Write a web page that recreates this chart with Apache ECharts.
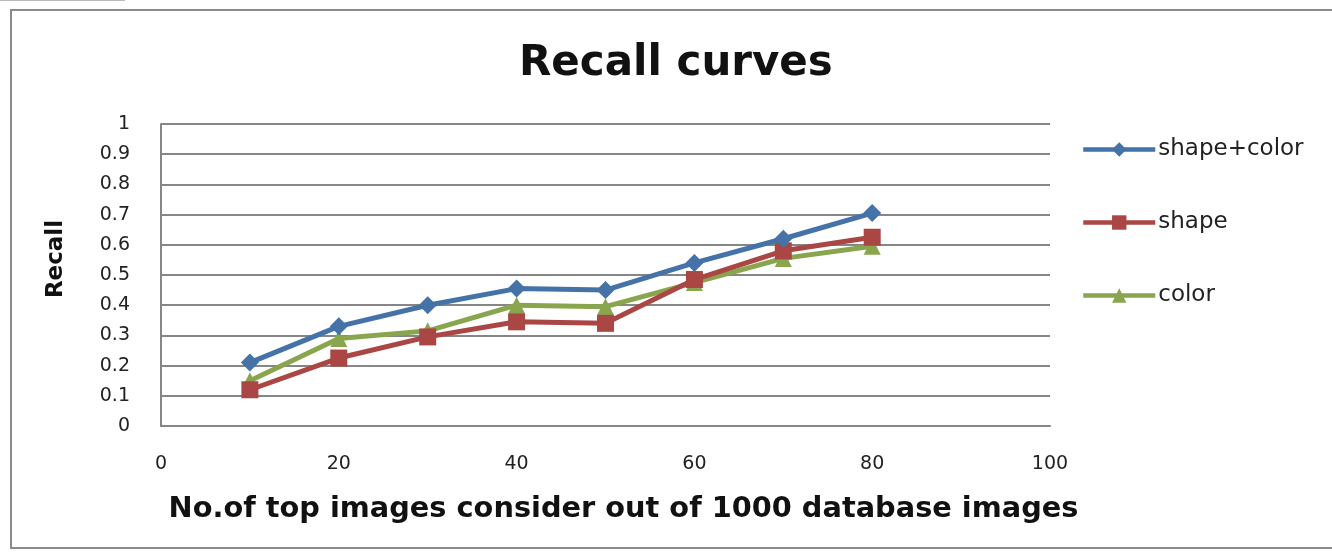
<!DOCTYPE html>
<html>
<head>
<meta charset="utf-8">
<script src="https://cdn.jsdelivr.net/npm/echarts@6/dist/echarts.min.js"></script>
<style>
  html, body { margin: 0; padding: 0; background: #fff; }
  #chart { width: 1332px; height: 552px; }
</style>
</head>
<body>
<div id="chart"></div>
<script>
// Number of top images retrieved
const topImages = [10, 20, 30, 40, 50, 60, 70, 80];

// Recall for each feature set
const shapeColor = [0.21, 0.33, 0.40, 0.455, 0.45, 0.54, 0.62, 0.705];
const shapeOnly  = [0.12, 0.225, 0.295, 0.345, 0.34, 0.485, 0.58, 0.625];
const colorOnly  = [0.15, 0.29, 0.315, 0.40, 0.395, 0.475, 0.555, 0.595];

const seriesNames = ['shape+color', 'shape', 'color'];
const seriesColors = ['#4572A7', '#AA4643', '#89A54E'];
const seriesSymbols = ['diamond', 'rect', 'triangle'];
const seriesValues = [shapeColor, shapeOnly, colorOnly];

const font = '"DejaVu Sans", "Open Sans", sans-serif';

const chart = echarts.init(document.getElementById('chart'));

chart.setOption({
  backgroundColor: '#ffffff',
  animation: false,
  title: {
    text: 'Recall curves',
    left: 514,
    top: 38,
    textStyle: { fontFamily: font, fontSize: 42, fontWeight: 'bold', color: '#111' }
  },
  legend: {
    orient: 'vertical',
    left: 1076,
    top: 133,
    itemGap: 50,
    itemWidth: 72,
    itemHeight: 18,
    lineStyle: { width: 4.5 },
    textStyle: { fontFamily: font, fontSize: 23, color: '#222', padding: [0, 0, 0, -2] },
    data: seriesNames
  },
  grid: { left: 161, top: 124, right: 282, bottom: 126 },
  xAxis: {
    type: 'value',
    min: 0, max: 100, interval: 20,
    name: 'No.of top images consider out of 1000 database images',
    nameLocation: 'middle',
    nameGap: 69,
    nameTextStyle: { fontFamily: font, fontSize: 28.8, fontWeight: 'bold', color: '#111', padding: [0, 0, 0, 36] },
    axisLine: { show: true, lineStyle: { color: '#868686', width: 2 } },
    axisTick: { show: false },
    splitLine: { show: false },
    axisLabel: { fontFamily: font, fontSize: 19, color: '#222', margin: 29 }
  },
  yAxis: {
    type: 'value',
    min: 0, max: 1, interval: 0.1,
    name: 'Recall',
    nameLocation: 'middle',
    nameGap: 93,
    nameTextStyle: { fontFamily: font, fontSize: 23, fontWeight: 'bold', color: '#111', padding: [0, 0, 0, 32] },
    axisLine: { show: true, lineStyle: { color: '#868686', width: 2 } },
    axisTick: { show: false },
    splitLine: { show: true, lineStyle: { color: '#868686', width: 2 } },
    axisLabel: {
      fontFamily: font, fontSize: 19, color: '#222', margin: 31,
      formatter: v => String(Math.round(v * 10) / 10)
    }
  },
  series: seriesNames.map((name, i) => ({
    name,
    type: 'line',
    data: topImages.map((x, j) => [x, seriesValues[i][j]]),
    symbol: seriesSymbols[i],
    symbolSize: i === 0 ? 18 : 17,
    showAllSymbol: true,
    lineStyle: { width: 5, color: seriesColors[i] },
    itemStyle: { color: seriesColors[i] },
    z: 3 - i
  })),
  graphic: [
    {
      type: 'rect',
      shape: { x: 11, y: 10, width: 1340, height: 538 },
      style: { fill: 'none', stroke: '#8a8a8a', lineWidth: 2 },
      silent: true
    },
    {
      type: 'line',
      shape: { x1: 0, y1: 0.5, x2: 125, y2: 0.5 },
      style: { stroke: '#bbbbbb', lineWidth: 1 },
      silent: true
    }
  ]
});
</script>
</body>
</html>
